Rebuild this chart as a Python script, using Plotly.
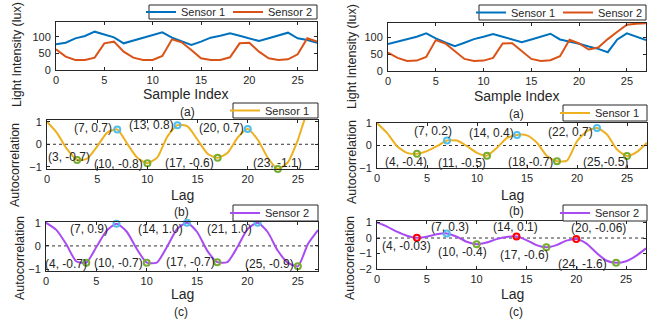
import plotly.graph_objects as go

W, H = 652, 320

# ---------------- data ----------------
sample_index = list(range(28))
lags = list(range(28))

# left column: light intensity (lux)
left_sensor1 = [77, 82, 95, 102, 115, 107, 98, 80, 88, 95, 103, 113, 97, 85, 75, 85, 97, 103, 110, 103, 95, 87, 95, 103, 112, 95, 90, 82]
left_sensor2 = [62, 40, 30, 30, 37, 80, 85, 55, 37, 30, 30, 42, 92, 83, 60, 35, 30, 30, 38, 80, 82, 55, 35, 30, 32, 47, 95, 85]
# right column: light intensity (lux)
right_sensor1 = [80, 87, 94, 102, 112, 97, 85, 74, 84, 95, 102, 110, 102, 94, 86, 94, 102, 111, 94, 88, 81, 73, 66, 56, 94, 112, 102, 92]
right_sensor2 = [55, 39, 30, 31, 42, 92, 82, 59, 36, 30, 31, 39, 82, 83, 59, 36, 30, 32, 44, 93, 82, 64, 70, 95, 117, 138, 141, 142]

# autocorrelations
left_acf1 = [1.0, 0.5, -0.22, -0.7, -0.64, -0.09, 0.52, 0.66, 0.02, -0.6, -0.84, -0.58, 0.35, 0.85, 0.8, 0.2, -0.42, -0.6, -0.38, 0.3, 0.68, 0.2, -0.6, -1.1, -0.8, 0.2, 1.45, 1.7]
left_acf2 = [1.0, 0.7, 0.08, -0.66, -0.72, -0.05, 0.65, 0.96, 0.62, -0.12, -0.72, -0.72, -0.05, 0.72, 1.0, 0.6, -0.2, -0.7, -0.7, -0.05, 0.72, 1.0, 0.6, -0.2, -0.72, -0.88, 0.08, 0.68]
right_acf1 = [1.0, 0.56, -0.03, -0.33, -0.37, -0.25, -0.03, 0.22, 0.22, -0.03, -0.33, -0.45, -0.1, 0.34, 0.47, 0.45, 0.12, -0.47, -0.7, -0.67, 0.19, 0.64, 0.78, 0.49, -0.18, -0.47, -0.28, 0.12]
right_acf2 = [1.0, 0.74, 0.41, 0.15, 0.02, 0.09, 0.24, 0.3, 0.09, -0.24, -0.4, -0.29, -0.07, 0.07, 0.1, -0.13, -0.46, -0.6, -0.46, -0.17, -0.06, -0.35, -0.94, -1.45, -1.6, -1.5, -1.15, -0.67]

# marked extremes: (lag, label, kind)
left_acf1_marks_lag = [7, 13, 20, 3, 10, 17, 23]
left_acf1_marks_text = ["(7, 0.7)", "(13, 0.8)", "(20, 0.7)", "(3, -0.7)", "(10, -0.8)", "(17, -0.6)", "(23, -1.1)"]
left_acf1_marks_kind = ["peak", "peak", "peak", "trough", "trough", "trough", "trough"]

left_acf2_marks_lag = [7, 14, 21, 4, 10, 17, 25]
left_acf2_marks_text = ["(7, 0.9)", "(14, 1.0)", "(21, 1.0)", "(4, -0.7)", "(10, -0.7)", "(17, -0.7)", "(25, -0.9)"]
left_acf2_marks_kind = ["peak", "peak", "peak", "trough", "trough", "trough", "trough"]

right_acf1_marks_lag = [7, 14, 22, 4, 11, 18, 25]
right_acf1_marks_text = ["(7, 0.2)", "(14, 0.4)", "(22, 0.7)", "(4, -0.4)", "(11, -0.5)", "(18,-0.7)", "(25,-0.5)"]
right_acf1_marks_kind = ["peak", "peak", "peak", "trough", "trough", "trough", "trough"]

right_acf2_marks_lag = [7, 4, 14, 20, 10, 17, 24]
right_acf2_marks_text = ["(7, 0.3)", "(4, -0.03)", "(14, 0.1)", "(20, -0.06)", "(10, -0.4)", "(17, -0.6)", "(24, -1.6)"]
right_acf2_marks_kind = ["peak", "false", "false", "false", "trough", "trough", "trough"]

x_ticks = [0, 5, 10, 15, 20, 25]

# ---------------- styles / layout helpers ----------------
BLUE = "#0072BD"
ORANGE = "#D95319"
YELLOW = "#EDB120"
PURPLE = "#A94BF2"
MARK_COL = {"peak": "#4DBEEE", "trough": "#77AC30", "false": "#FF0000"}
TXT = "#262626"
FONT = "Liberation Sans, Arial, sans-serif"

# label offsets (px, +y down) relative to the marker
left1_off = [(-24, -1), (-26, 0), (-26, -1), (-8, -3), (-29, 1), (-28, 5), (0, -6)]
left2_off = [(-28, 5), (-27, 6), (-28, 6), (-20, 1), (-28, 0), (-27, 0), (-28, -2)]
right1_off = [(-14, -10), (-26, -2), (-27, 4), (-11, 8), (-25, 7), (-27, 1), (-22, 6)]
right2_off = [(3, -6), (-10, 8), (-1, -9), (22, -11), (-14, 8), (-22, 8), (-34, 1)]

def px_x(p):
    return p / W

def px_y(p):
    return 1 - p / H

# subplot boxes in pixels: (left, right, top, bottom)
boxes = {
    1: (56, 317, 22, 70),
    2: (47, 318, 120, 169),
    3: (46, 318, 222, 271),
    4: (388, 646, 23, 71),
    5: (377, 647, 123, 168),
    6: (377, 646, 221, 269),
}
yranges = {1: [0, 144], 2: [-1.1, 1.08], 3: [-1.08, 1.03], 4: [0, 143], 5: [-1, 1], 6: [-2, 1.1]}
yticks = {1: [0, 50, 100], 2: [-1, 0, 1], 3: [-1, 0, 1], 4: [0, 50, 100], 5: [-1, 0, 1], 6: [-2, -1, 0, 1]}

fig = go.Figure()

def ax(i):
    return ("x" if i == 1 else f"x{i}"), ("y" if i == 1 else f"y{i}")

# light-intensity traces
for i, s1, s2, lg in [(1, left_sensor1, left_sensor2, "legend"), (4, right_sensor1, right_sensor2, "legend4")]:
    xa, ya = ax(i)
    fig.add_trace(go.Scatter(x=sample_index, y=s1, mode="lines", name="Sensor 1",
                             line=dict(color=BLUE, width=2), xaxis=xa, yaxis=ya, legend=lg))
    fig.add_trace(go.Scatter(x=sample_index, y=s2, mode="lines", name="Sensor 2",
                             line=dict(color=ORANGE, width=2), xaxis=xa, yaxis=ya, legend=lg))

annotations = []
acf_sets = [
    (2, left_acf1, "Sensor 1", YELLOW, "legend2", left_acf1_marks_lag, left_acf1_marks_text, left_acf1_marks_kind, left1_off),
    (3, left_acf2, "Sensor 2", PURPLE, "legend3", left_acf2_marks_lag, left_acf2_marks_text, left_acf2_marks_kind, left2_off),
    (5, right_acf1, "Sensor 1", YELLOW, "legend5", right_acf1_marks_lag, right_acf1_marks_text, right_acf1_marks_kind, right1_off),
    (6, right_acf2, "Sensor 2", PURPLE, "legend6", right_acf2_marks_lag, right_acf2_marks_text, right_acf2_marks_kind, right2_off),
]
shapes = []
for i, acf, name, col, lg, mlag, mtext, mkind, offs in acf_sets:
    xa, ya = ax(i)
    shapes.append(dict(type="line", xref=f"{xa} domain", yref=ya, x0=0, x1=1, y0=0, y1=0,
                       line=dict(color="#333333", width=1, dash="dot"), layer="below"))
    fig.add_trace(go.Scatter(x=lags, y=acf, mode="lines", name=name,
                             line=dict(color=col, width=2, shape="spline", smoothing=0.6),
                             xaxis=xa, yaxis=ya, legend=lg))
    my = [acf[l] for l in mlag]
    fig.add_trace(go.Scatter(x=mlag, y=my, mode="markers", showlegend=False,
                             marker=dict(symbol="circle-open", size=6,
                                         color=[MARK_COL[k] for k in mkind],
                                         line=dict(width=2, color=[MARK_COL[k] for k in mkind])),
                             xaxis=xa, yaxis=ya, cliponaxis=False))
    for l, yv, t, (dx, dy) in zip(mlag, my, mtext, offs):
        annotations.append(dict(x=l, y=yv, xref=xa, yref=ya, text=t, showarrow=False,
                                xanchor="center", yanchor="middle", xshift=dx, yshift=-dy,
                                font=dict(size=12, color=TXT, family=FONT)))

layout = dict(
    width=W, height=H, margin=dict(l=0, r=0, t=0, b=0, autoexpand=False),
    paper_bgcolor="white", plot_bgcolor="white",
    font=dict(family=FONT, size=11, color=TXT),
    showlegend=True,
)
for i, (l, r, t, b) in boxes.items():
    xk = "xaxis" if i == 1 else f"xaxis{i}"
    yk = "yaxis" if i == 1 else f"yaxis{i}"
    xa, ya = ax(i)
    layout[xk] = dict(domain=[px_x(l), px_x(r)], range=[0, 27], anchor=ya, automargin=False,
                      tickvals=x_ticks, ticks="inside", ticklen=3, tickcolor=TXT,
                      showline=True, linecolor=TXT, linewidth=1, mirror="ticks",
                      showgrid=False, zeroline=False, tickfont=dict(size=11, color=TXT))
    layout[yk] = dict(domain=[px_y(b), px_y(t)], range=yranges[i], anchor=xa, automargin=False,
                      tickvals=yticks[i], ticks="inside", ticklen=3, tickcolor=TXT,
                      showline=True, linecolor=TXT, linewidth=1, mirror="ticks",
                      showgrid=False, zeroline=False, tickfont=dict(size=11, color=TXT),
                      ticklabelstandoff=2)

# legend frames (px): key -> (left, right, top, bottom); the legend content sits inside
legend_box = {"legend": (149, 317, 5, 19), "legend4": (479, 646, 5, 20),
              "legend2": (233, 318, 103, 118), "legend3": (233, 318, 205, 221),
              "legend5": (563, 647, 105, 121), "legend6": (563, 647, 205, 221)}
for key, (l, r, t, b) in legend_box.items():
    shapes.append(dict(type="rect", xref="paper", yref="paper", x0=px_x(l), x1=px_x(r),
                       y0=px_y(b), y1=px_y(t), fillcolor="white",
                       line=dict(color=TXT, width=1), layer="above"))
    layout[key] = dict(x=px_x(l - 8), y=px_y((t + b) / 2), xanchor="left", yanchor="middle",
                       orientation="h", bgcolor="rgba(0,0,0,0)", borderwidth=0,
                       font=dict(size=11, color=TXT, family=FONT), itemwidth=30,
                       entrywidth=42, entrywidthmode="pixels", tracegroupgap=0)

def paper_text(text, cx, cy, size, angle=0):
    return dict(x=px_x(cx), y=px_y(cy), xref="paper", yref="paper", text=text, showarrow=False,
                xanchor="center", yanchor="middle", textangle=angle,
                font=dict(size=size, color=TXT, family=FONT))

# axis titles and sub-captions
annotations += [
    paper_text("Sample Index", 186, 94, 14), paper_text("Sample Index", 517, 96, 14),
    paper_text("Lag", 182, 195, 14), paper_text("Lag", 182, 294, 14),
    paper_text("Lag", 512, 195, 14), paper_text("Lag", 512, 294, 14),
    paper_text("(a)", 187, 112, 12), paper_text("(a)", 516, 114, 12),
    paper_text("(b)", 181, 212, 12), paper_text("(b)", 516, 211, 12),
    paper_text("(c)", 181, 312, 12), paper_text("(c)", 516, 312, 12),
    paper_text("Light Intensity (lux)", 17, 55, 12.5, -90),
    paper_text("Autocorrelation", 15, 165, 12.5, -90),
    paper_text("Autocorrelation", 20, 258, 12.5, -90),
    paper_text("Light Intensity (lux)", 352, 57, 12.5, -90),
    paper_text("Autocorrelation", 352, 162, 12.5, -90),
    paper_text("Autocorrelation", 350, 258, 12.5, -90),
]
layout["annotations"] = annotations
layout["shapes"] = shapes
fig.update_layout(**layout)

fig.write_html("out.html", config={"displayModeBar": False},
               post_script="document.body.style.margin='0';document.body.style.overflow='hidden';")
